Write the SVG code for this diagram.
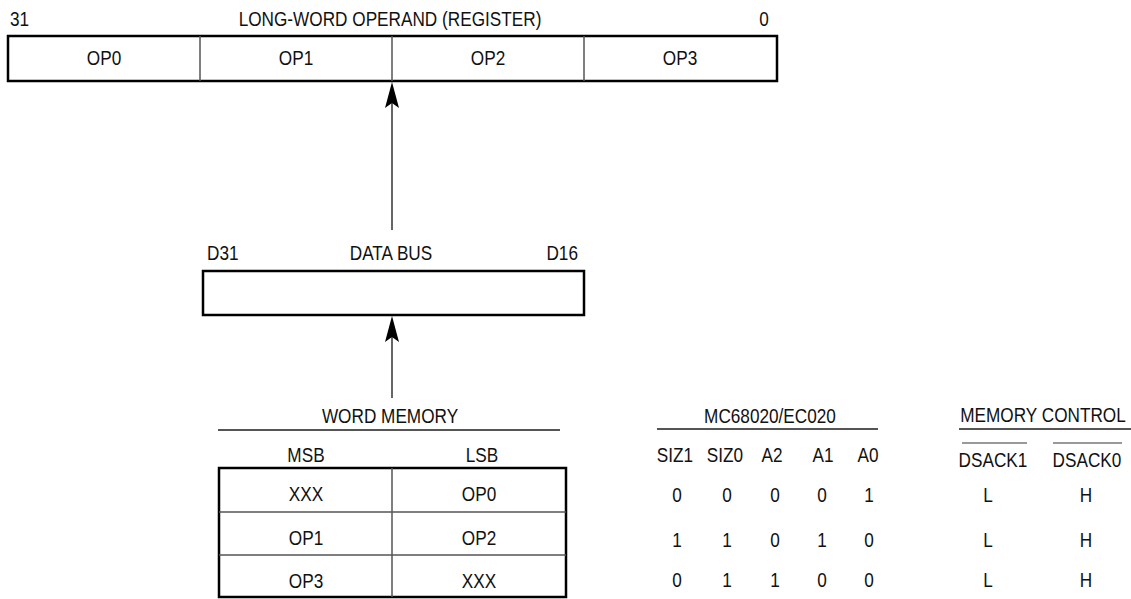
<svg xmlns="http://www.w3.org/2000/svg" width="1131" height="599" viewBox="0 0 1131 599">
<style>
text{font-family:'Liberation Sans',Arial,sans-serif;font-size:20px;fill:#111;text-anchor:middle}
.st{text-anchor:start}
.en{text-anchor:end}
.box{fill:none;stroke:#000;stroke-width:2.5}
.div{stroke:#555;stroke-width:1.5}
.rule{stroke:#555;stroke-width:2}
.over{stroke:#999;stroke-width:2}
.conn{stroke:#333;stroke-width:1.5;fill:none}
.head{fill:#000;stroke:none}
</style>
<rect width="1131" height="599" fill="#fff"/>
<g id="register">
<text class="st" transform="translate(10 26) scale(0.86 1)">31</text>
<text transform="translate(390 26) scale(0.86 1)">LONG-WORD OPERAND (REGISTER)</text>
<text transform="translate(764 26) scale(0.86 1)">0</text>
<rect class="box" x="8" y="36" width="769" height="45"/>
<line class="div" x1="200" y1="36" x2="200" y2="81"/>
<line class="div" x1="392" y1="36" x2="392" y2="81"/>
<line class="div" x1="584" y1="36" x2="584" y2="81"/>
<text transform="translate(104 65) scale(0.86 1)">OP0</text>
<text transform="translate(296 65) scale(0.86 1)">OP1</text>
<text transform="translate(488 65) scale(0.86 1)">OP2</text>
<text transform="translate(680 65) scale(0.86 1)">OP3</text>
</g>
<g id="databus">
<text class="st" transform="translate(207 260) scale(0.86 1)">D31</text>
<text transform="translate(391 260) scale(0.86 1)">DATA BUS</text>
<text class="en" transform="translate(578 260) scale(0.86 1)">D16</text>
<rect class="box" x="203" y="271" width="381" height="44"/>
</g>
<g id="wordmemory">
<text transform="translate(390 423) scale(0.86 1)">WORD MEMORY</text>
<line class="rule" x1="218" y1="430" x2="560" y2="430"/>
<text transform="translate(306 462) scale(0.86 1)">MSB</text>
<text transform="translate(482 462) scale(0.86 1)">LSB</text>
<rect class="box" x="219" y="468" width="347" height="129"/>
<line class="div" x1="392" y1="468" x2="392" y2="597"/>
<line class="div" x1="219" y1="512" x2="566" y2="512"/>
<line class="div" x1="219" y1="555" x2="566" y2="555"/>
<text transform="translate(306 501) scale(0.86 1)">XXX</text>
<text transform="translate(479 501) scale(0.86 1)">OP0</text>
<text transform="translate(306 545) scale(0.86 1)">OP1</text>
<text transform="translate(479 545) scale(0.86 1)">OP2</text>
<text transform="translate(306 588) scale(0.86 1)">OP3</text>
<text transform="translate(479 588) scale(0.86 1)">XXX</text>
</g>
<g id="mc68020">
<text transform="translate(770 423) scale(0.86 1)">MC68020/EC020</text>
<line class="rule" x1="657" y1="429" x2="878" y2="429"/>
<text transform="translate(675 462) scale(0.86 1)">SIZ1</text>
<text transform="translate(725 462) scale(0.86 1)">SIZ0</text>
<text transform="translate(772 462) scale(0.86 1)">A2</text>
<text transform="translate(823 462) scale(0.86 1)">A1</text>
<text transform="translate(868 462) scale(0.86 1)">A0</text>
<text transform="translate(677 502) scale(0.86 1)">0</text><text transform="translate(727 502) scale(0.86 1)">0</text><text transform="translate(775 502) scale(0.86 1)">0</text><text transform="translate(822 502) scale(0.86 1)">0</text><text transform="translate(869 502) scale(0.86 1)">1</text>
<text transform="translate(677 547) scale(0.86 1)">1</text><text transform="translate(727 547) scale(0.86 1)">1</text><text transform="translate(775 547) scale(0.86 1)">0</text><text transform="translate(822 547) scale(0.86 1)">1</text><text transform="translate(869 547) scale(0.86 1)">0</text>
<text transform="translate(677 587) scale(0.86 1)">0</text><text transform="translate(727 587) scale(0.86 1)">1</text><text transform="translate(775 587) scale(0.86 1)">1</text><text transform="translate(822 587) scale(0.86 1)">0</text><text transform="translate(869 587) scale(0.86 1)">0</text>
</g>
<g id="memorycontrol">
<text transform="translate(1043 422) scale(0.86 1)">MEMORY CONTROL</text>
<line class="rule" x1="959" y1="429" x2="1131" y2="429"/>
<line class="over" x1="962" y1="443" x2="1027" y2="443"/>
<line class="over" x1="1053" y1="443" x2="1122" y2="443"/>
<text transform="translate(993 467) scale(0.86 1)">DSACK1</text>
<text transform="translate(1087 467) scale(0.86 1)">DSACK0</text>
<text transform="translate(988 502) scale(0.86 1)">L</text><text transform="translate(1086 502) scale(0.86 1)">H</text>
<text transform="translate(988 547) scale(0.86 1)">L</text><text transform="translate(1086 547) scale(0.86 1)">H</text>
<text transform="translate(988 587) scale(0.86 1)">L</text><text transform="translate(1086 587) scale(0.86 1)">H</text>
</g>
<g id="connectors">
<line class="conn" x1="392" y1="230" x2="392" y2="100"/>
<path class="head" d="M392,82 L385,108 L392,103 L399,108 Z"/>
<line class="conn" x1="392" y1="398" x2="392" y2="335"/>
<path class="head" d="M392,316 L385,342 L392,337 L399,342 Z"/>
</g>
</svg>
